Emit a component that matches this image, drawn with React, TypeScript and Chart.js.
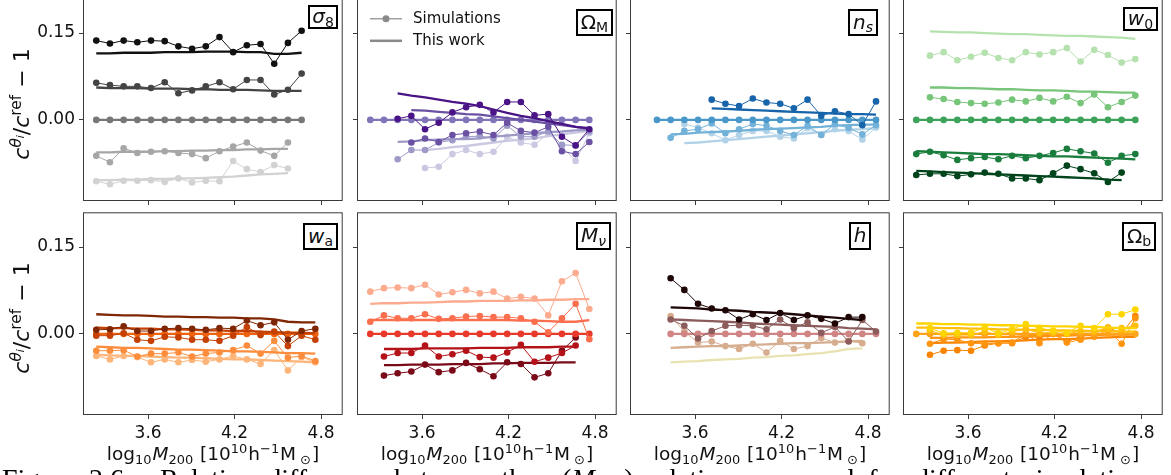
import React, { useEffect, useRef } from "react";
import { Chart, registerables } from "chart.js";

Chart.register(...registerables);

// Halo-mass bin centres, log10 M200 [1e10 h^-1 Msun]
const MASS_BINS = [3.24, 3.335, 3.43, 3.525, 3.62, 3.715, 3.81, 3.905, 4.0, 4.095, 4.19, 4.285, 4.38, 4.475, 4.57, 4.665, 4.76, 4.855];
const X_TICKS = [3.6, 4.2, 4.8];
const Y_TICKS = [0.0, 0.15];
const LEGEND_LABELS = ["Simulations", "This work"];

// sigma_8
const S8_SIM_A = [0.137, 0.132, 0.137, 0.134, 0.137, 0.136, 0.127, 0.123, 0.127, 0.143, 0.117, 0.129, 0.131, 0.097, 0.133, 0.154];
const S8_FIT_A = [0.115, 0.115, 0.116, 0.116, 0.116, 0.117, 0.117, 0.117, 0.118, 0.118, 0.118, 0.117, 0.117, 0.114, 0.114, 0.116];
const S8_SIM_B = [0.064, 0.06, 0.058, 0.058, 0.055, 0.065, 0.046, 0.051, 0.058, 0.065, 0.053, 0.069, 0.069, 0.044, 0.052, 0.08];
const S8_FIT_B = [0.056, 0.055, 0.055, 0.055, 0.054, 0.054, 0.054, 0.053, 0.053, 0.052, 0.052, 0.052, 0.051, 0.05, 0.05, 0.05];
const S8_SIM_C = [0, 0, 0, 0, 0, 0, 0, 0, 0, 0, 0, 0, 0, 0, 0, 0];
const S8_FIT_C = [0, 0, 0, 0, 0, 0, 0, 0, 0, 0, 0, 0, 0, 0, 0, 0];
const S8_SIM_D = [-0.062, -0.073, -0.049, -0.057, -0.055, -0.054, -0.057, -0.059, -0.066, -0.054, -0.046, -0.039, -0.053, -0.062, -0.039];
const S8_FIT_D = [-0.056, -0.056, -0.055, -0.055, -0.055, -0.054, -0.054, -0.053, -0.053, -0.052, -0.052, -0.051, -0.051, -0.05, -0.05];
const S8_SIM_E = [-0.106, -0.111, -0.105, -0.105, -0.104, -0.107, -0.101, -0.108, -0.105, -0.106, -0.071, -0.085, -0.09, -0.078, -0.084];
const S8_FIT_E = [-0.104, -0.104, -0.103, -0.103, -0.102, -0.102, -0.101, -0.101, -0.1, -0.099, -0.098, -0.096, -0.094, -0.093, -0.092];

// Omega_M
const OM_SIM_1 = [0.002, 0.007, -0.016, -0.005, 0.013, 0.022, 0.026, 0.013, 0.031, 0.031, 0.008, 0.01, -0.029, -0.044, -0.016];
const OM_FIT_1 = [0.046, 0.042, 0.039, 0.035, 0.031, 0.028, 0.024, 0.018, 0.012, 0.007, 0.003, -0.002, -0.007, -0.012, -0.014];
const OM_SIM_2 = [-0.039, -0.032, -0.038, -0.026, -0.023, -0.02, -0.026, -0.005, -0.019, -0.022, -0.012, -0.054, -0.059, -0.038];
const OM_FIT_2 = [0.017, 0.016, 0.014, 0.012, 0.01, 0.009, 0.006, 0.003, 0.0, -0.003, -0.006, -0.009, -0.012, -0.016];
const OM_SIM_0 = [0, 0, 0, 0, 0, 0, 0, 0, 0, 0, 0, 0, 0, 0, 0, 0, 0];
const OM_FIT_0 = [0, 0, 0, 0, 0, 0, 0, 0, 0, 0, 0, 0, 0, 0, 0, 0, 0];
const OM_SIM_3 = [-0.068, -0.052, -0.052, -0.039, -0.035, -0.029, -0.028, -0.032, -0.01, -0.029, -0.029, -0.02, -0.043, -0.044, -0.02];
const OM_FIT_3 = [-0.038, -0.037, -0.035, -0.034, -0.033, -0.033, -0.032, -0.029, -0.027, -0.025, -0.023, -0.021, -0.02, -0.018, -0.017];
const OM_SIM_4 = [-0.083, -0.081, -0.059, -0.052, -0.059, -0.055, -0.029, -0.039, -0.043, -0.023, -0.046, -0.071, -0.023];
const OM_FIT_4 = [-0.052, -0.05, -0.047, -0.045, -0.042, -0.039, -0.036, -0.034, -0.032, -0.028, -0.025, -0.022, -0.019];

// n_s
const NS_SIM_1 = [0.035, 0.028, 0.024, 0.037, 0.03, 0.028, 0.02, 0.035, 0.007, 0.015, 0.01, -0.009, 0.032];
const NS_FIT_1 = [0.02, 0.019, 0.018, 0.017, 0.016, 0.015, 0.014, 0.013, 0.012, 0.011, 0.01, 0.01, 0.009];
const NS_SIM_0 = [0, 0, 0, 0, 0, 0, 0, 0, 0, 0, 0, 0, 0, 0, 0, 0, 0];
const NS_FIT_0 = [0, 0, 0, 0, 0, 0, 0, 0, 0, 0, 0, 0, 0, 0, 0, 0, 0];
const NS_SIM_3 = [-0.031, -0.019, -0.016, -0.006, -0.023, -0.016, -0.007, -0.01, -0.019, -0.026, -0.01, -0.026, -0.007, -0.014, -0.025, -0.009];
const NS_FIT_3 = [-0.025, -0.024, -0.022, -0.021, -0.02, -0.019, -0.017, -0.016, -0.015, -0.014, -0.013, -0.012, -0.01, -0.009, -0.008, -0.008];
const NS_SIM_4 = [-0.007, -0.013, -0.023, -0.035, -0.026, -0.019, -0.019, -0.029, -0.032, -0.014, -0.026, -0.016, -0.019, -0.034, -0.013];
const NS_FIT_4 = [-0.04, -0.039, -0.037, -0.035, -0.033, -0.031, -0.029, -0.027, -0.025, -0.023, -0.021, -0.019, -0.017, -0.016, -0.014];

// w_0
const W0_SIM_1 = [0.111, 0.117, 0.103, 0.109, 0.116, 0.107, 0.103, 0.117, 0.113, 0.117, 0.124, 0.101, 0.121, 0.112, 0.099, 0.105];
const W0_FIT_1 = [0.153, 0.152, 0.151, 0.151, 0.15, 0.149, 0.148, 0.148, 0.147, 0.146, 0.145, 0.145, 0.144, 0.143, 0.142, 0.14];
const W0_SIM_2 = [0.039, 0.036, 0.031, 0.029, 0.028, 0.03, 0.035, 0.032, 0.038, 0.032, 0.04, 0.029, 0.044, 0.022, 0.031, 0.042];
const W0_FIT_2 = [0.056, 0.056, 0.055, 0.055, 0.054, 0.053, 0.053, 0.052, 0.051, 0.051, 0.05, 0.049, 0.049, 0.048, 0.047, 0.047];
const W0_SIM_0 = [0, 0, 0, 0, 0, 0, 0, 0, 0, 0, 0, 0, 0, 0, 0, 0, 0];
const W0_FIT_0 = [0, 0, 0, 0, 0, 0, 0, 0, 0, 0, 0, 0, 0, 0, 0, 0, 0];
const W0_SIM_3 = [-0.059, -0.055, -0.061, -0.069, -0.066, -0.064, -0.068, -0.062, -0.066, -0.062, -0.057, -0.05, -0.054, -0.058, -0.074, -0.062, -0.059];
const W0_FIT_3 = [-0.054, -0.055, -0.056, -0.057, -0.058, -0.059, -0.059, -0.06, -0.061, -0.062, -0.063, -0.063, -0.064, -0.065, -0.066, -0.067, -0.068];
const W0_SIM_4 = [-0.095, -0.093, -0.093, -0.097, -0.094, -0.091, -0.093, -0.101, -0.101, -0.104, -0.092, -0.079, -0.085, -0.092, -0.107, -0.091];
const W0_FIT_4 = [-0.088, -0.089, -0.09, -0.091, -0.092, -0.093, -0.094, -0.095, -0.096, -0.097, -0.098, -0.099, -0.1, -0.101, -0.103, -0.104];

// w_a
const WA_SIM_1 = [0.007, 0.008, 0.013, 0.005, 0.005, 0.009, 0.01, 0.009, 0.007, 0.01, 0.009, 0.023, 0.015, 0.02, -0.01, 0.005, 0.009];
const WA_FIT_1 = [0.034, 0.033, 0.032, 0.032, 0.031, 0.03, 0.03, 0.029, 0.029, 0.028, 0.028, 0.027, 0.027, 0.025, 0.021, 0.02, 0.02];
const WA_SIM_2 = [-0.003, -0.003, 0.001, -0.01, -0.012, -0.005, -0.006, -0.01, -0.01, -0.012, -0.003, 0.012, -0.002, 0.004, -0.021, -0.003, -0.01];
const WA_FIT_2 = [0.011, 0.01, 0.01, 0.009, 0.009, 0.008, 0.008, 0.007, 0.006, 0.006, 0.005, 0.005, 0.004, 0.003, 0.002, 0.002, 0.001];
const WA_SIM_0 = [0, 0, 0, 0, 0, 0, 0, 0, 0, 0, 0, 0, 0, 0, 0, 0, 0];
const WA_FIT_0 = [0, 0, 0, 0, 0, 0, 0, 0, 0, 0, 0, 0, 0, 0, 0, 0, 0];
const WA_SIM_4 = [-0.029, -0.029, -0.028, -0.039, -0.034, -0.034, -0.032, -0.039, -0.034, -0.032, -0.028, -0.02, -0.034, -0.012, -0.041, -0.038, -0.047];
const WA_FIT_4 = [-0.022, -0.023, -0.024, -0.024, -0.025, -0.026, -0.027, -0.027, -0.028, -0.029, -0.03, -0.03, -0.031, -0.032, -0.033, -0.033, -0.034];
const WA_SIM_5 = [-0.038, -0.044, -0.038, -0.04, -0.049, -0.044, -0.049, -0.045, -0.048, -0.044, -0.038, -0.044, -0.052, -0.028, -0.063, -0.04, -0.049];
const WA_FIT_5 = [-0.036, -0.037, -0.038, -0.038, -0.039, -0.04, -0.041, -0.041, -0.042, -0.043, -0.044, -0.044, -0.045, -0.046, -0.047, -0.048, -0.049];

// M_nu
const MN_SIM_1 = [0.073, 0.079, 0.08, 0.079, 0.085, 0.068, 0.072, 0.076, 0.07, 0.073, 0.061, 0.064, 0.061, 0.032, 0.091, 0.105, 0.043];
const MN_FIT_1 = [0.052, 0.053, 0.053, 0.054, 0.054, 0.055, 0.056, 0.056, 0.057, 0.057, 0.057, 0.058, 0.058, 0.059, 0.059, 0.06, 0.06];
const MN_SIM_2 = [0.021, 0.032, 0.027, 0.027, 0.034, 0.026, 0.027, 0.03, 0.031, 0.029, 0.029, 0.027, 0.021, 0.003, 0.027, 0.052, -0.009];
const MN_FIT_2 = [0.024, 0.024, 0.024, 0.024, 0.024, 0.024, 0.024, 0.024, 0.024, 0.024, 0.024, 0.023, 0.023, 0.022, 0.021, 0.021, 0.024];
const MN_SIM_0 = [0, 0, 0, 0, 0, 0, 0, 0, 0, 0, 0, 0, 0, 0, 0, 0, 0];
const MN_FIT_0 = [0, 0, 0, 0, 0, 0, 0, 0, 0, 0, 0, 0, 0, 0, 0, 0, 0];
const MN_SIM_4 = [-0.039, -0.033, -0.033, -0.02, -0.039, -0.035, -0.029, -0.04, -0.041, -0.032, -0.019, -0.048, -0.041, -0.033, -0.02];
const MN_FIT_4 = [-0.026, -0.026, -0.026, -0.025, -0.025, -0.025, -0.025, -0.024, -0.024, -0.024, -0.023, -0.023, -0.023, -0.022, -0.022];
const MN_SIM_5 = [-0.072, -0.068, -0.065, -0.053, -0.066, -0.063, -0.05, -0.061, -0.073, -0.049, -0.052, -0.075, -0.068, -0.029, -0.006];
const MN_FIT_5 = [-0.054, -0.054, -0.053, -0.053, -0.053, -0.052, -0.052, -0.052, -0.051, -0.051, -0.05, -0.05, -0.05, -0.049, -0.049];

// h
const H_SIM_1 = [0.096, 0.076, 0.052, 0.044, 0.041, 0.025, 0.034, 0.024, 0.036, 0.024, 0.032, 0.026, 0.018, 0.029, 0.029];
const H_FIT_1 = [0.046, 0.045, 0.044, 0.042, 0.041, 0.04, 0.038, 0.037, 0.036, 0.034, 0.032, 0.03, 0.028, 0.026, 0.024];
const H_SIM_2 = [0.025, 0.014, -0.008, 0.005, 0.014, 0.015, 0.014, 0.008, 0.025, 0.01, 0.02, 0.002, 0.012, -0.013, 0.024, 0.004];
const H_FIT_2 = [0.025, 0.024, 0.023, 0.022, 0.021, 0.02, 0.018, 0.017, 0.016, 0.015, 0.014, 0.013, 0.012, 0.01, 0.009, 0.008];
const H_SIM_0 = [0, 0, 0, 0, 0, 0, 0, 0, 0, 0, 0, 0, 0, 0, 0, 0];
const H_FIT_0 = [0, 0, 0, 0, 0, 0, 0, 0, 0, 0, 0, 0, 0, 0, 0, 0];
const H_SIM_4 = [0.031, 0.004, -0.015, -0.013, -0.021, -0.026, -0.017, -0.032, -0.012, -0.026, -0.021, -0.007, -0.015, -0.012, -0.016];
const H_FIT_4 = [-0.024, -0.023, -0.022, -0.021, -0.021, -0.02, -0.019, -0.018, -0.017, -0.016, -0.016, -0.015, -0.014, -0.013, -0.012];
const H_FIT_5 = [-0.049, -0.048, -0.047, -0.045, -0.044, -0.043, -0.041, -0.04, -0.038, -0.037, -0.035, -0.033, -0.03, -0.026, -0.025];

// Omega_b
const OB_SIM_1 = [0.01, 0.001, 0.002, 0.002, 0.011, 0.001, 0.008, 0.017, 0.01, 0.006, 0.002, 0.014, 0.01, 0.034, 0.034, 0.042];
const OB_FIT_1 = [0.018, 0.018, 0.017, 0.017, 0.016, 0.016, 0.015, 0.015, 0.014, 0.014, 0.013, 0.013, 0.012, 0.012, 0.011, 0.01, 0.01];
const OB_SIM_2 = [0.006, -0.002, -0.002, -0.002, 0.004, -0.002, 0.004, 0.008, 0.002, 0.002, 0.0, 0.005, 0.004, 0.011, 0.01, 0.014];
const OB_FIT_2 = [0.011, 0.011, 0.01, 0.01, 0.009, 0.009, 0.008, 0.008, 0.007, 0.007, 0.006, 0.006, 0.005, 0.005, 0.005, 0.004, 0.004];
const OB_SIM_0 = [0, 0, 0, 0, 0, 0, 0, 0, 0, 0, 0, 0, 0, 0, 0, 0, 0];
const OB_FIT_0 = [0, 0, 0, 0, 0, 0, 0, 0, 0, 0, 0, 0, 0, 0, 0, 0, 0];
const OB_SIM_4 = [-0.017, -0.009, -0.01, -0.016, -0.017, -0.016, -0.015, 0.0, -0.016, 0.0, -0.015, -0.01, -0.005, 0.007, -0.017, 0.027];
const OB_FIT_4 = [-0.007, -0.007, -0.006, -0.006, -0.006, -0.005, -0.005, -0.004, -0.004, -0.003, -0.003, -0.002, -0.002, -0.001, -0.001, -0.001];
const OB_SIM_5 = [-0.036, -0.029, -0.028, -0.029, -0.02, -0.016, -0.016, -0.005, -0.005, 0.002, -0.013, -0.005, 0.001, 0.011, 0.001, 0.031];
const OB_FIT_5 = [-0.016, -0.015, -0.015, -0.014, -0.013, -0.013, -0.012, -0.011, -0.01, -0.009, -0.009, -0.008, -0.007, -0.006, -0.005, -0.005];

type Series = { color: string; sim?: number[]; simStart?: number; fit?: number[]; fitStart?: number };

const PANELS: Series[][] = [
  [
    { color: "#111111", sim: S8_SIM_A, simStart: 0, fit: S8_FIT_A, fitStart: 0 },
    { color: "#444444", sim: S8_SIM_B, simStart: 0, fit: S8_FIT_B, fitStart: 0 },
    { color: "#777777", sim: S8_SIM_C, simStart: 0, fit: S8_FIT_C, fitStart: 0 },
    { color: "#a6a6a6", sim: S8_SIM_D, simStart: 0, fit: S8_FIT_D, fitStart: 0 },
    { color: "#d2d2d2", sim: S8_SIM_E, simStart: 0, fit: S8_FIT_E, fitStart: 0 },
  ],
  [
    { color: "#4a1486", sim: OM_SIM_1, simStart: 2, fit: OM_FIT_1, fitStart: 2 },
    { color: "#6a51a3", sim: OM_SIM_2, simStart: 3, fit: OM_FIT_2, fitStart: 3 },
    { color: "#8174b8", sim: OM_SIM_0, simStart: 0, fit: OM_FIT_0, fitStart: 0 },
    { color: "#9e9ac8", sim: OM_SIM_3, simStart: 2, fit: OM_FIT_3, fitStart: 2 },
    { color: "#cbc9e2", sim: OM_SIM_4, simStart: 4, fit: OM_FIT_4, fitStart: 4 },
  ],
  [
    { color: "#1764ab", sim: NS_SIM_1, simStart: 5, fit: NS_FIT_1, fitStart: 5 },
    { color: "#4a98c9", sim: NS_SIM_0, simStart: 1, fit: NS_FIT_0, fitStart: 1 },
    { color: "#73b2d8", sim: NS_SIM_3, simStart: 2, fit: NS_FIT_3, fitStart: 2 },
    { color: "#b2d2e8", sim: NS_SIM_4, simStart: 3, fit: NS_FIT_4, fitStart: 3 },
  ],
  [
    { color: "#b5e1ae", sim: W0_SIM_1, simStart: 1, fit: W0_FIT_1, fitStart: 1 },
    { color: "#76c578", sim: W0_SIM_2, simStart: 1, fit: W0_FIT_2, fitStart: 1 },
    { color: "#3da35a", sim: W0_SIM_0, simStart: 0, fit: W0_FIT_0, fitStart: 0 },
    { color: "#1b7d3d", sim: W0_SIM_3, simStart: 0, fit: W0_FIT_3, fitStart: 0 },
    { color: "#00441b", sim: W0_SIM_4, simStart: 0, fit: W0_FIT_4, fitStart: 0 },
  ],
  [
    { color: "#7f2704", sim: WA_SIM_1, simStart: 0, fit: WA_FIT_1, fitStart: 0 },
    { color: "#c44103", sim: WA_SIM_2, simStart: 0, fit: WA_FIT_2, fitStart: 0 },
    { color: "#ef620f", sim: WA_SIM_0, simStart: 0, fit: WA_FIT_0, fitStart: 0 },
    { color: "#fd8d3c", sim: WA_SIM_4, simStart: 0, fit: WA_FIT_4, fitStart: 0 },
    { color: "#fdb57a", sim: WA_SIM_5, simStart: 0, fit: WA_FIT_5, fitStart: 0 },
  ],
  [
    { color: "#fcab8f", sim: MN_SIM_1, simStart: 0, fit: MN_FIT_1, fitStart: 0 },
    { color: "#fb6e4e", sim: MN_SIM_2, simStart: 0, fit: MN_FIT_2, fitStart: 0 },
    { color: "#e8392b", sim: MN_SIM_0, simStart: 0, fit: MN_FIT_0, fitStart: 0 },
    { color: "#b31218", sim: MN_SIM_4, simStart: 1, fit: MN_FIT_4, fitStart: 1 },
    { color: "#7a0a18", sim: MN_SIM_5, simStart: 1, fit: MN_FIT_5, fitStart: 1 },
  ],
  [
    { color: "#1e0606", sim: H_SIM_1, simStart: 2, fit: H_FIT_1, fitStart: 2 },
    { color: "#8c5c5c", sim: H_SIM_2, simStart: 2, fit: H_FIT_2, fitStart: 2 },
    { color: "#d08484", sim: H_SIM_0, simStart: 2, fit: H_FIT_0, fitStart: 2 },
    { color: "#d6ad8f", sim: H_SIM_4, simStart: 2, fit: H_FIT_4, fitStart: 2 },
    { color: "#e8e2b0", fit: H_FIT_5, fitStart: 2 },
  ],
  [
    { color: "#ffd500", sim: OB_SIM_1, simStart: 1, fit: OB_FIT_1, fitStart: 0 },
    { color: "#ffbe0b", sim: OB_SIM_2, simStart: 1, fit: OB_FIT_2, fitStart: 0 },
    { color: "#ffa31a", sim: OB_SIM_0, simStart: 0, fit: OB_FIT_0, fitStart: 0 },
    { color: "#ff9410", sim: OB_SIM_4, simStart: 1, fit: OB_FIT_4, fitStart: 1 },
    { color: "#f98400", sim: OB_SIM_5, simStart: 1, fit: OB_FIT_5, fitStart: 1 },
  ],
];

// Panel geometry on the page
const COL_LEFT = [83, 357, 630, 903];
const ROW_TOP = [-2, 212];
const PLOT_W = 260;
const PLOT_H = 203;
const PAD_TOP = 3;
const PAD_RIGHT = 3;
const FONT = '"DejaVu Sans", sans-serif';

function toPoints(start: number, values: number[]) {
  return values.map((y, k) => ({ x: MASS_BINS[start + k], y }));
}

const framePlugin = {
  id: "frame",
  afterDatasetsDraw(chart: any) {
    const { ctx, chartArea: a } = chart;
    ctx.save();
    ctx.strokeStyle = "#3a3a3a";
    ctx.lineWidth = 1;
    ctx.strokeRect(a.left + 0.5, a.top + 0.5, a.right - a.left - 1, a.bottom - a.top - 1);
    ctx.restore();
  },
};

const legendPlugin = {
  id: "simLegend",
  afterDraw(chart: any) {
    const { ctx, chartArea: a } = chart;
    ctx.save();
    ctx.strokeStyle = "#8a8a8a";
    ctx.fillStyle = "#8a8a8a";
    // simulation entry: thin line with a dot
    let y = a.top + 20.5;
    ctx.lineWidth = 1.2;
    ctx.beginPath();
    ctx.moveTo(a.left + 13, y);
    ctx.lineTo(a.left + 45, y);
    ctx.stroke();
    ctx.beginPath();
    ctx.arc(a.left + 29, y, 3.5, 0, Math.PI * 2);
    ctx.fill();
    // model entry: thick line
    y = a.top + 42.5;
    ctx.lineWidth = 2.5;
    ctx.beginPath();
    ctx.moveTo(a.left + 13, y);
    ctx.lineTo(a.left + 45, y);
    ctx.stroke();
    ctx.fillStyle = "#111";
    ctx.font = `15px ${FONT}`;
    ctx.textBaseline = "middle";
    ctx.fillText(LEGEND_LABELS[0], a.left + 56, a.top + 20.5);
    ctx.fillText(LEGEND_LABELS[1], a.left + 56, a.top + 42.5);
    ctx.restore();
  },
};

function Panel({ index }: { index: number }) {
  const ref = useRef<HTMLCanvasElement | null>(null);
  const col = index % 4;
  const row = Math.floor(index / 4);
  const padLeft = col === 0 ? COL_LEFT[0] : 10;
  const padBottom = row === 0 ? 6 : 32;
  const canvasLeft = COL_LEFT[col] - padLeft;
  const canvasTop = ROW_TOP[row] - PAD_TOP;
  const w = padLeft + PLOT_W + PAD_RIGHT;
  const h = PAD_TOP + PLOT_H + padBottom;

  useEffect(() => {
    const datasets: any[] = [];
    for (const s of PANELS[index]) {
      if (s.sim) {
        datasets.push({
          data: toPoints(s.simStart ?? 0, s.sim),
          borderColor: s.color,
          backgroundColor: s.color,
          borderWidth: 1,
          pointRadius: 3.3,
          pointHoverRadius: 3.3,
          pointBorderWidth: 0,
          pointBackgroundColor: s.color,
        });
      }
      if (s.fit) {
        datasets.push({
          data: toPoints(s.fitStart ?? 0, s.fit),
          borderColor: s.color,
          borderWidth: 2.3,
          pointRadius: 0,
          pointHoverRadius: 0,
        });
      }
    }
    const tickFont = { family: FONT, size: 17 };
    const chart = new Chart(ref.current as HTMLCanvasElement, {
      type: "line",
      data: { datasets },
      options: {
        animation: false,
        responsive: false,
        devicePixelRatio: 1,
        events: [],
        layout: { padding: { top: PAD_TOP, right: PAD_RIGHT, left: 0, bottom: 0 } },
        plugins: { legend: { display: false }, tooltip: { enabled: false } },
        scales: {
          x: {
            type: "linear",
            min: 3.148,
            max: 4.95,
            afterBuildTicks: (scale: any) => {
              scale.ticks = X_TICKS.map((v) => ({ value: v }));
            },
            afterFit: (scale: any) => {
              scale.height = padBottom;
              scale.paddingLeft = 0;
              scale.paddingRight = 0;
              scale.paddingTop = 0;
              scale.paddingBottom = 0;
            },
            ticks: {
              display: row === 1,
              font: tickFont,
              color: "#111",
              padding: 4,
              maxRotation: 0,
              autoSkip: false,
              callback: (v: any) => Number(v).toFixed(1),
            },
            grid: { drawOnChartArea: false, drawTicks: true, tickLength: 4, tickColor: "#3a3a3a", tickWidth: 1 },
            border: { display: false },
          },
          y: {
            type: "linear",
            min: -0.14,
            max: 0.21,
            afterBuildTicks: (scale: any) => {
              scale.ticks = Y_TICKS.map((v) => ({ value: v }));
            },
            afterFit: (scale: any) => {
              scale.width = padLeft;
              scale.paddingLeft = 0;
              scale.paddingRight = 0;
              scale.paddingTop = 0;
              scale.paddingBottom = 0;
            },
            ticks: {
              display: col === 0,
              font: tickFont,
              color: "#111",
              padding: 4,
              autoSkip: false,
              callback: (v: any) => Number(v).toFixed(2),
            },
            grid: { drawOnChartArea: false, drawTicks: true, tickLength: 4, tickColor: "#3a3a3a", tickWidth: 1 },
            border: { display: false },
          },
        },
      },
      plugins: index === 1 ? [framePlugin, legendPlugin] : [framePlugin],
    } as any);
    return () => chart.destroy();
  }, [index]);

  return (
    <canvas
      ref={ref}
      width={w}
      height={h}
      style={{ position: "absolute", left: canvasLeft, top: canvasTop, width: w, height: h }}
    />
  );
}

const small = (content: React.ReactNode, top: string, gapL = 0, gapR = 0) => (
  <span style={{ fontSize: "0.7em", position: "relative", top, marginLeft: gapL, marginRight: gapR }}>{content}</span>
);
const sup = (c: React.ReactNode, gapR = 0) => small(c, "-0.55em", 0, gapR);
const sub = (c: React.ReactNode, gapL = 0, gapR = 0) => small(c, "0.28em", gapL, gapR);

const PANEL_LABELS: React.ReactNode[] = [
  <><i>σ</i>{sub("8")}</>,
  <>Ω{sub("M")}</>,
  <><i>n</i>{sub(<i>s</i>)}</>,
  <><i>w</i>{sub("0")}</>,
  <><i>w</i>{sub("a")}</>,
  <><i>M</i>{sub(<i>ν</i>)}</>,
  <><i>h</i></>,
  <>Ω{sub("b")}</>,
];
// left, top, width, height of each parameter box
const LABEL_BOXES = [
  [308, 5, 30, 24],
  [576, 9, 37, 27],
  [848, 9, 30, 27],
  [1123, 7, 35, 24],
  [303, 223, 35, 27],
  [576, 222, 35, 28],
  [849, 222, 22, 28],
  [1122, 222, 34, 29],
];

const Y_TITLE = (
  <>
    <i>c</i>
    {sup(<><i>θ</i><span style={{ fontSize: "0.7em", position: "relative", top: "0.3em" }}><i>i</i></span></>)}
    /<i>c</i>
    {sup("ref")} − 1
  </>
);

const X_TITLE = (
  <>
    log{sub("10", 0, 1)}
    <i>M</i>
    {sub("200", 0, 1)} [10{sup("10", 1)}h{sup("−1", 1)}M{sub("⊙", 4, 1)}]
  </>
);

export default function App() {
  return (
    <div
      style={{
        position: "absolute",
        left: 0,
        top: 0,
        width: 1171,
        height: 475,
        overflow: "hidden",
        background: "#fff",
        fontFamily: FONT,
        color: "#111",
      }}
    >
      {PANELS.map((_, i) => (
        <Panel key={i} index={i} />
      ))}

      {LABEL_BOXES.map(([l, t, bw, bh], i) => (
        <div
          key={"lab" + i}
          style={{
            position: "absolute",
            left: l,
            top: t,
            width: bw,
            height: bh,
            boxSizing: "border-box",
            border: "2px solid #000",
            background: "#fff",
            display: "flex",
            alignItems: "center",
            justifyContent: "center",
            fontSize: 20,
            lineHeight: 1,
            whiteSpace: "nowrap",
          }}
        >
          <span style={{ position: "relative", top: -1 }}>{PANEL_LABELS[i]}</span>
        </div>
      ))}

      {[ROW_TOP[0] + PLOT_H / 2 + 4, ROW_TOP[1] + PLOT_H / 2 + 4].map((cy, i) => (
        <div
          key={"yt" + i}
          style={{
            position: "absolute",
            left: 22,
            top: cy,
            transform: "translate(-50%, -50%) rotate(-90deg)",
            fontSize: 22,
            lineHeight: 1,
            whiteSpace: "nowrap",
          }}
        >
          {Y_TITLE}
        </div>
      ))}

      {COL_LEFT.map((l, i) => (
        <div
          key={"xt" + i}
          style={{
            position: "absolute",
            left: l + PLOT_W / 2,
            top: 445,
            transform: "translateX(-50%)",
            fontSize: 18.5,
            lineHeight: 1,
            whiteSpace: "nowrap",
          }}
        >
          {X_TITLE}
        </div>
      ))}

      <div
        style={{
          position: "absolute",
          left: 2,
          top: 465,
          fontFamily: '"Liberation Serif", "Times New Roman", serif',
          fontSize: 28,
          lineHeight: "28px",
          whiteSpace: "nowrap",
          wordSpacing: 7,
          color: "#000",
        }}
      >
        Figure 2.6:&nbsp; Relative difference between the <i>c</i>(<i>M</i>
        <span style={{ fontSize: "0.7em", position: "relative", top: "0.25em" }}>200</span>) relation measured for different simulations
      </div>
    </div>
  );
}
